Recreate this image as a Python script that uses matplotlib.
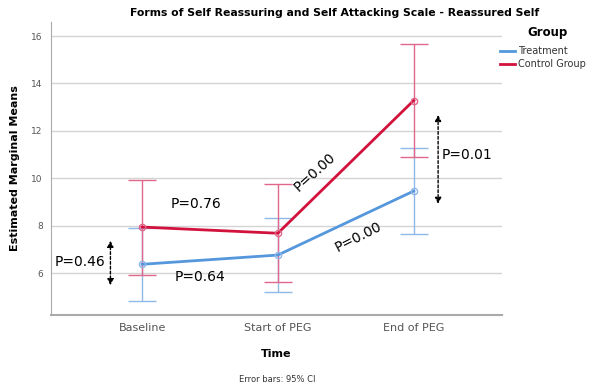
import numpy as np
import matplotlib.pyplot as plt

# estimated marginal means with 95% CI
times = ['Baseline', 'Start of PEG', 'End of PEG']
treat_mean = [6.37, 6.76, 9.46]
treat_lo = [4.83, 5.19, 7.65]
treat_hi = [7.92, 8.34, 11.28]
ctrl_mean = [7.94, 7.68, 13.28]
ctrl_lo = [5.92, 5.61, 10.90]
ctrl_hi = [9.93, 9.75, 15.65]

blue = '#5597dd'
red = '#d2123c'
blue_err = '#8fb8e8'
red_err = '#e0668a'

fig = plt.figure(figsize=(5.94, 3.87), dpi=100)
ax = fig.add_axes([0.086, 0.186, 0.759, 0.757])
x = np.arange(len(times))

for mean, lo, hi, lc, ec, lab in [(treat_mean, treat_lo, treat_hi, blue, blue_err, 'Treatment'),
                                  (ctrl_mean, ctrl_lo, ctrl_hi, red, red_err, 'Control Group')]:
    mean = np.array(mean)
    yerr = [mean - np.array(lo), np.array(hi) - mean]
    ax.errorbar(x, mean, yerr=yerr, fmt='none', ecolor=ec, elinewidth=1.0,
                capsize=10.4, capthick=1.0, zorder=2)
    ax.plot(x, mean, color=lc, lw=2.0, label=lab, zorder=3)
    ax.plot(x, mean, 'o', ms=4.5, mfc='none', mec=ec, mew=1.0, zorder=4)

ax.set_xlim(-0.67, 2.65)
ax.set_ylim(4.23, 16.59)
ax.set_yticks([6, 8, 10, 12, 14, 16])
ax.set_xticks(x)
ax.set_xticklabels(times)
ax.tick_params(axis='both', length=0, colors='#555555')
ax.tick_params(axis='y', labelsize=6.5, pad=6)
ax.tick_params(axis='x', labelsize=8, pad=6)
ax.yaxis.grid(True, color='#d4d4d4', lw=1.0)
ax.set_axisbelow(True)
for s in ['top', 'right']:
    ax.spines[s].set_visible(False)
ax.spines['left'].set_color('#aaaaaa')
ax.spines['bottom'].set_color('#aaaaaa')
ax.spines['bottom'].set_linewidth(1.5)

ax.set_ylabel('Estimated Marginal Means', fontsize=8, fontweight='bold', labelpad=8)
ax.set_xlabel('Time', fontsize=8, fontweight='bold', labelpad=11)
fig.text(0.564, 0.966, 'Forms of Self Reassuring and Self Attacking Scale - Reassured Self',
         ha='center', va='center', fontsize=7.8, fontweight='bold')
fig.text(0.467, 0.02, 'Error bars: 95% CI', ha='center', va='center', fontsize=6, color='#333333')

# legend with a separate bold heading
fig.text(0.921, 0.915, 'Group', ha='center', va='center', fontsize=8.5, fontweight='bold')
leg = ax.legend(loc='upper left', bbox_to_anchor=(0.995, 0.918), frameon=False,
                fontsize=7, handlelength=1.6, handletextpad=0.3, labelspacing=0.35,
                borderaxespad=0, borderpad=0)
for t in leg.get_texts():
    t.set_color('#333333')

# p-value annotations
arrow = dict(arrowstyle='<|-|>', ls=(0, (2, 1.5)), color='black', lw=1.0, mutation_scale=9)
ax.annotate('', xy=(-0.233, 7.48), xytext=(-0.233, 5.37), arrowprops=arrow)
ax.annotate('', xy=(2.18, 12.79), xytext=(2.18, 8.80), arrowprops=arrow)
ax.text(-0.46, 6.45, 'P=0.46', fontsize=10, ha='center', va='center')
ax.text(0.40, 8.9, 'P=0.76', fontsize=10, ha='center', va='center')
ax.text(0.43, 5.82, 'P=0.64', fontsize=10, ha='center', va='center')
ax.text(1.27, 10.27, 'P=0.00', fontsize=10, ha='center', va='center', rotation=42)
ax.text(1.59, 7.52, 'P=0.00', fontsize=10, ha='center', va='center', rotation=27)
ax.text(2.39, 10.97, 'P=0.01', fontsize=10, ha='center', va='center')

fig.savefig('out.png', dpi=100)
